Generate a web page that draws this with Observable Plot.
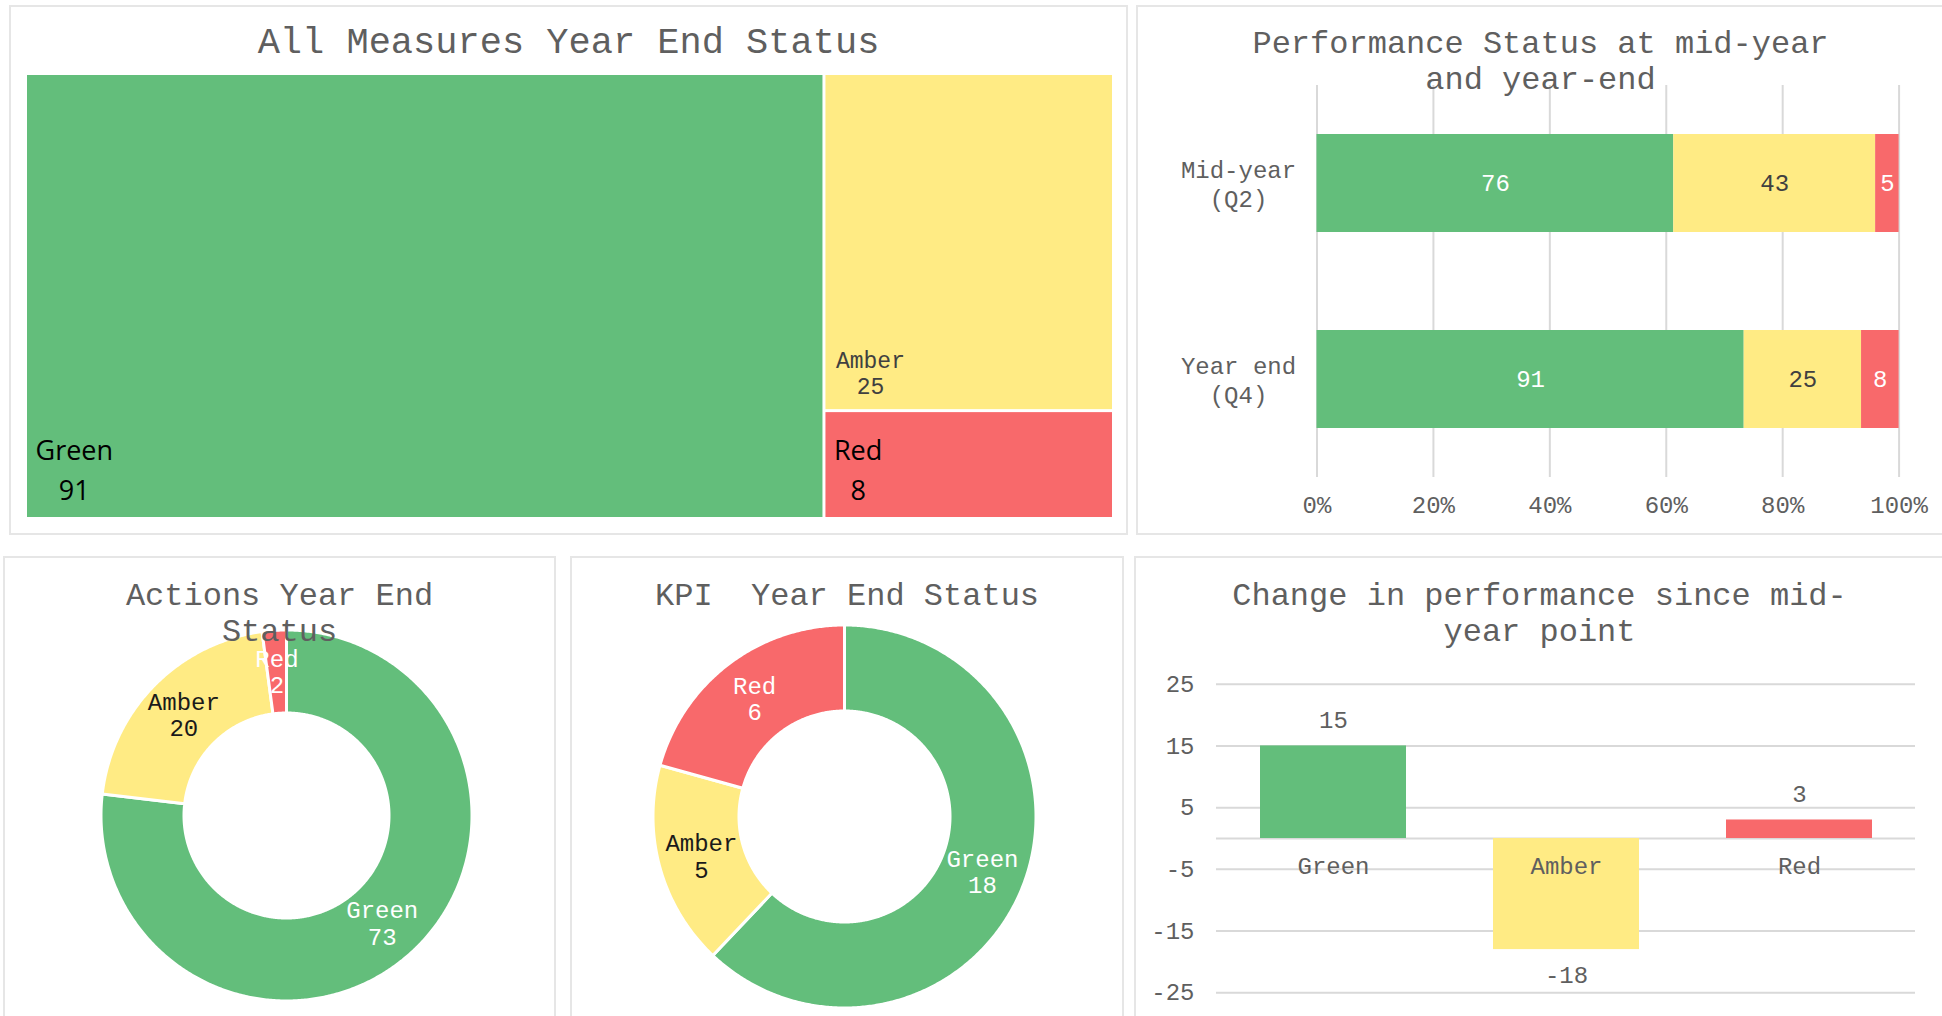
<!DOCTYPE html>
<html><head><meta charset="utf-8">
<script src="https://cdn.jsdelivr.net/npm/d3@7"></script>
<script src="https://cdn.jsdelivr.net/npm/@observablehq/plot@0.6"></script>
<style>
html,body{margin:0;padding:0;background:#fff;}
#root{position:relative;width:1942px;height:1016px;overflow:hidden;background:#fff;}
.panel{position:absolute;border:2px solid #e6e6e6;box-sizing:border-box;}
.title{position:absolute;text-align:center;font-family:"Liberation Mono","DejaVu Sans Mono",monospace;color:#5f5f5f;white-space:pre;z-index:5;}
.chart{position:absolute;}
</style></head><body><div id="root"></div>
<script>
// ---- data ----
const statuses = ["Green", "Amber", "Red"];
const colors = ["#63BE7B", "#FFEB84", "#F8696B"];
const allMeasures = [91, 25, 8];
const periods = ["Mid-year\n(Q2)", "Year end\n(Q4)"];
const midYear = [76, 43, 5];
const yearEnd = [91, 25, 8];
const actions = [73, 20, 2];
const kpi = [18, 5, 6];
const change = [15, -18, 3];
const pctTicks = [0, 0.2, 0.4, 0.6, 0.8, 1];
const changeTicks = [-25, -15, -5, 5, 15, 25];

const mono = '"Liberation Mono","DejaVu Sans Mono",monospace';
const sans = '"Open Sans","Noto Sans",sans-serif';
const grey = "#5f5f5f";
const root = document.getElementById("root");

function panel(l, t, w, h) {
  const d = document.createElement("div"); d.className = "panel";
  Object.assign(d.style, {left: l + "px", top: t + "px", width: w + "px", height: h + "px"});
  root.appendChild(d);
}
function place(el, l, t) {
  const d = document.createElement("div"); d.className = "chart";
  d.style.left = l + "px"; d.style.top = t + "px";
  d.appendChild(el); root.appendChild(d);
}
function title(text, l, w, t, fs, lh) {
  const d = document.createElement("div"); d.className = "title";
  Object.assign(d.style, {left: l + "px", width: w + "px", top: t + "px", fontSize: fs + "px", lineHeight: lh + "px"});
  d.textContent = text; root.appendChild(d);
}
const ctx = document.createElement("canvas").getContext("2d");
function tw(s, font) { ctx.font = font; return ctx.measureText(s).width; }

panel(9, 5, 1119, 530);
panel(1136, 5, 820, 530);
panel(3, 556, 553, 480);
panel(570, 556, 554, 480);
panel(1134, 556, 820, 480);

// ---- Treemap ----
{
  const W = 1085, H = 442;
  const h = d3.hierarchy({children: statuses.map((s, i) => ({status: s, value: allMeasures[i]}))}).sum(d => d.value || 0);
  d3.treemap().size([W, H]).paddingInner(3).tile(d3.treemapSquarify)(h);
  const tiles = h.leaves().map(n => ({status: n.data.status, value: n.data.value, x0: n.x0, x1: n.x1, y0: n.y0, y1: n.y1}));
  const sansT = tiles.filter(d => d.status !== "Amber");
  const monoT = tiles.filter(d => d.status === "Amber");
  const chart = Plot.plot({
    width: W, height: H, margin: 0,
    style: {background: "transparent"},
    x: {domain: [0, W], range: [0, W], axis: null},
    y: {domain: [0, H], range: [0, H], axis: null},
    color: {domain: statuses, range: colors},
    marks: [
      Plot.rect(tiles, {x1: "x0", x2: "x1", y1: "y0", y2: "y1", fill: "status"}),
      Plot.text(sansT, {x: d => d.x0 + 8, y: d => d.y1 - 66, text: "status", textAnchor: "start", fontFamily: sans, fontSize: 27, fill: "#000"}),
      Plot.text(sansT, {x: d => d.x0 + 8 + tw(d.status, `27px ${sans}`) / 2, y: d => d.y1 - 26, text: d => String(d.value), fontFamily: sans, fontSize: 27, fill: "#000"}),
      Plot.text(monoT, {x: d => d.x0 + 10, y: d => d.y1 - 49, text: "status", textAnchor: "start", fontFamily: mono, fontSize: 23, fill: "#404040"}),
      Plot.text(monoT, {x: d => d.x0 + 10 + tw(d.status, `23px ${mono}`) / 2, y: d => d.y1 - 23, text: d => String(d.value), fontFamily: mono, fontSize: 23, fill: "#404040"})
    ]
  });
  place(chart, 27, 75);
  title("All Measures Year End Status", 10, 1117, 20.5, 37, 44);
}

// ---- Performance status stacked bars ----
{
  const rows = [];
  periods.forEach((p, j) => {
    const vals = j ? yearEnd : midYear;
    const tot = d3.sum(vals); let c = 0;
    statuses.forEach((s, i) => { rows.push({period: p, status: s, value: vals[i], x1: c / tot, x2: (c + vals[i]) / tot}); c += vals[i]; });
  });
  const chart = Plot.plot({
    width: 805, height: 528, marginLeft: 179.5, marginRight: 43.4, marginTop: 79, marginBottom: 57,
    style: {background: "transparent", fontFamily: mono, fontSize: "24px", color: grey},
    x: {domain: [0, 1]},
    y: {domain: periods, type: "band", paddingInner: 0.5, paddingOuter: 0.25, axis: null},
    color: {domain: statuses, range: colors},
    marks: [
      Plot.ruleX(pctTicks, {stroke: "#d9d9d9", strokeWidth: 2}),
      Plot.barX(rows, {x1: "x1", x2: "x2", y: "period", fill: "status"}),
      Plot.text(rows.filter(d => d.status !== "Amber"), {x: d => (d.x1 + d.x2) / 2, y: "period", text: d => String(d.value), fill: "white", fontSize: 24}),
      Plot.text(rows.filter(d => d.status === "Amber"), {x: d => (d.x1 + d.x2) / 2, y: "period", text: d => String(d.value), fill: "#404040", fontSize: 24}),
      Plot.axisX({ticks: pctTicks, tickSize: 0, tickPadding: 18, tickFormat: d => Math.round(d * 100) + "%", label: null, fontSize: 24}),
      Plot.text(periods, {y: d => d, frameAnchor: "left", dx: -78.5, textAnchor: "middle", text: d => d, fill: grey, fontSize: 24, lineHeight: 1.17})
    ]
  });
  place(chart, 1137, 6);
  title("Performance Status at mid-year\nand year-end", 1137, 807, 26.5, 32, 36);
}

// ---- Donuts ----
function donut(values, W, H, cx, cy, Rv, rv) {
  const Rp = Rv + 1.5, rp = rv - 1.5, k = rp / Rp;
  const total = d3.sum(values); let c = 0;
  const slices = statuses.map((s, i) => {
    const a0 = c / total * 2 * Math.PI; c += values[i];
    const a1 = c / total * 2 * Math.PI;
    return {status: s, value: values[i], a0, a1, mid: (a0 + a1) / 2};
  });
  const pts = [];
  slices.forEach(sl => {
    const n = Math.max(2, Math.ceil((sl.a1 - sl.a0) / (Math.PI / 360)));
    for (let j = 0; j <= n; j++) { const a = sl.a0 + (sl.a1 - sl.a0) * j / n; pts.push({status: sl.status, x: Math.sin(a), y: Math.cos(a)}); }
    for (let j = n; j >= 0; j--) { const a = sl.a0 + (sl.a1 - sl.a0) * j / n; pts.push({status: sl.status, x: k * Math.sin(a), y: k * Math.cos(a)}); }
  });
  const rm = ((Rv + rv) / 2) / Rp;
  const lab = d => d.status + "\n" + d.value;
  return Plot.plot({
    width: W, height: H, margin: 0,
    style: {background: "transparent", fontFamily: mono, fontSize: "24px"},
    x: {domain: [-1, 1], range: [cx - Rp, cx + Rp], axis: null},
    y: {domain: [-1, 1], range: [cy + Rp, cy - Rp], axis: null},
    color: {domain: statuses, range: colors},
    marks: [
      Plot.line(pts, {x: "x", y: "y", z: "status", fill: "status", stroke: "white", strokeWidth: 3, curve: "linear-closed"}),
      Plot.text(slices.filter(d => d.status !== "Amber"), {x: d => rm * Math.sin(d.mid), y: d => rm * Math.cos(d.mid), text: lab, fill: "white", fontSize: 24, lineHeight: 1.1}),
      Plot.text(slices.filter(d => d.status === "Amber"), {x: d => rm * Math.sin(d.mid), y: d => rm * Math.cos(d.mid), text: lab, fill: "#1a1a1a", fontSize: 24, lineHeight: 1.1})
    ]
  });
}
place(donut(actions, 551, 459, 286 - 4, 815 - 557, 184, 104), 4, 557);
title("Actions Year End\nStatus", 4, 551, 578.5, 32, 36);
place(donut(kpi, 552, 459, 844 - 571, 816 - 557, 190, 107), 571, 557);
title("KPI  Year End Status", 571, 552, 578.5, 32, 36);

// ---- Change chart ----
{
  const chg = statuses.map((s, i) => ({status: s, value: change[i]}));
  const chart = Plot.plot({
    width: 807, height: 459, marginLeft: 81, marginRight: 27, marginTop: 126.7, marginBottom: 23.7,
    style: {background: "transparent", fontFamily: mono, fontSize: "24px", color: grey},
    x: {domain: statuses, type: "band", paddingInner: 0.375, paddingOuter: 0.1875, axis: null},
    y: {domain: [-25, 25], label: null},
    color: {domain: statuses, range: colors},
    marks: [
      Plot.ruleY([...changeTicks, 0], {stroke: "#d9d9d9", strokeWidth: 2}),
      Plot.barY(chg, {x: "status", y: "value", fill: "status"}),
      Plot.axisY({ticks: changeTicks, tickSize: 0, tickPadding: 22, tickFormat: d => String(d), label: null, fontSize: 24}),
      Plot.text(chg, {x: "status", y: d => 0, dy: 28, text: "status", fill: grey, fontSize: 24}),
      Plot.text(chg.filter(d => d.value >= 0), {x: "status", y: "value", dy: -26, text: d => String(d.value), fill: grey, fontSize: 24}),
      Plot.text(chg.filter(d => d.value < 0), {x: "status", y: "value", dy: 26, text: d => String(d.value), fill: grey, fontSize: 24})
    ]
  });
  place(chart, 1135, 557);
  title("Change in performance since mid-\nyear point", 1135, 809, 578.5, 32, 36);
}
</script>
</body></html>
